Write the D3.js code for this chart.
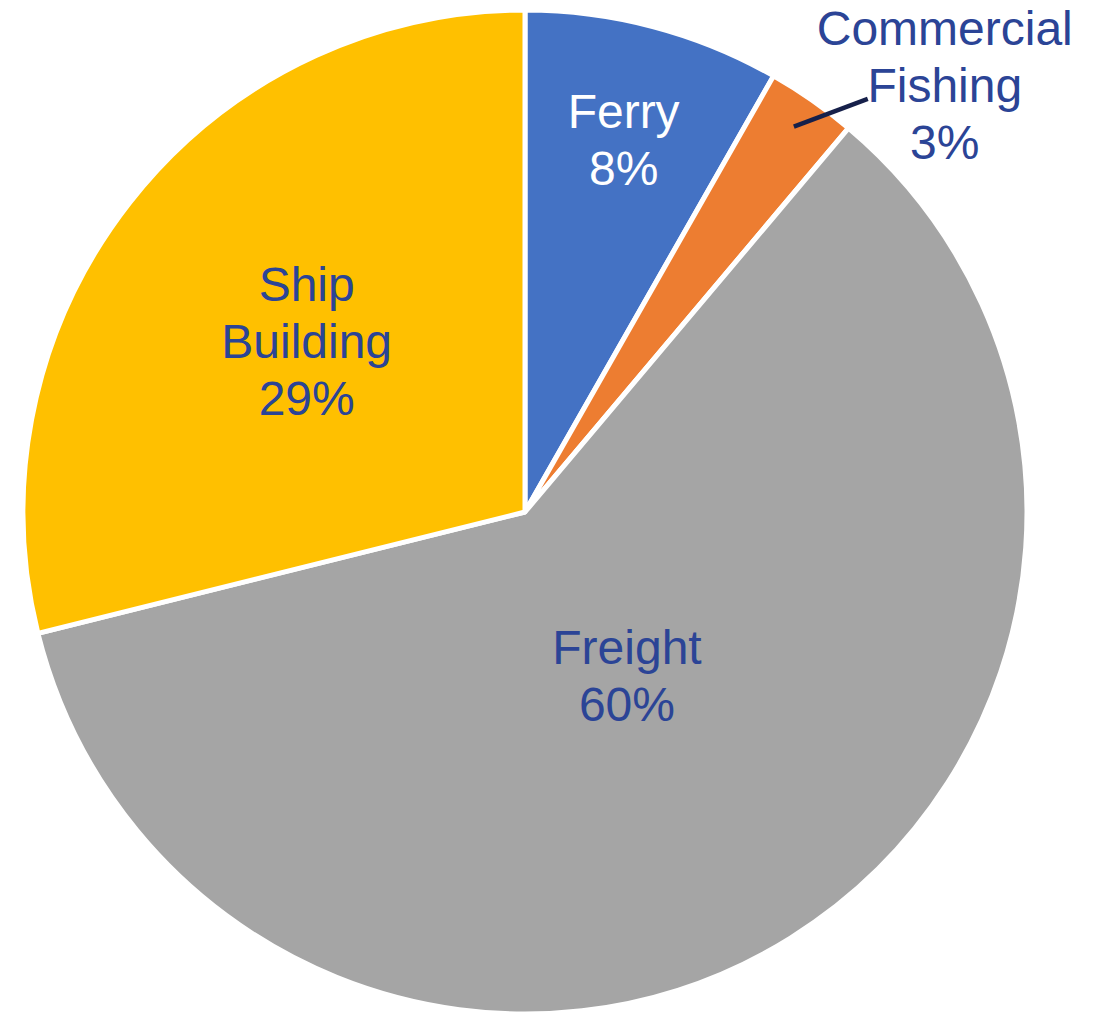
<!DOCTYPE html>
<html>
<head>
<meta charset="utf-8">
<script src="https://cdn.jsdelivr.net/npm/d3@7"></script>
<style>
  html, body { margin: 0; padding: 0; background: #ffffff; }
  svg { display: block; }
</style>
</head>
<body>
<svg id="chart" width="1104" height="1014"></svg>
<script>
// ---- data ----
const categories = ["Ferry", "Commercial Fishing", "Freight", "Ship Building"];
const labelLines = [["Ferry"], ["Commercial", "Fishing"], ["Freight"], ["Ship", "Building"]];
const values = [8.25, 2.9, 60.0, 28.9];
const percentLabels = ["8%", "3%", "60%", "29%"];

// ---- layout / style ----
const W = 1104, H = 1014;
const cx = 525, cy = 512, R = 502;
const colors = ["#4472C4", "#ED7D31", "#A5A5A5", "#FFC000"];
const textColors = ["#FFFFFF", "#2B4496", "#2B4496", "#2B4496"];
const labelRadiusFactor = [0.767, null, 0.384, 0.552];
const fontSize = 48, lineH = 57;

const svg = d3.select("#chart");
const g = svg.append("g").attr("transform", `translate(${cx},${cy})`);

const pie = d3.pie().sort(null).value(d => d)(values);
const arc = d3.arc().innerRadius(0).outerRadius(R);

g.selectAll("path.slice")
  .data(pie)
  .join("path")
  .attr("class", "slice")
  .attr("d", arc)
  .attr("fill", (d, i) => colors[i])
  .attr("stroke", "#ffffff")
  .attr("stroke-width", 5)
  .attr("stroke-linejoin", "round");

function drawLabel(x, y, lines, color) {
  const t = g.append("text")
    .attr("text-anchor", "middle")
    .attr("font-family", "Liberation Sans, Arial, sans-serif")
    .attr("font-size", fontSize)
    .attr("fill", color);
  const n = lines.length;
  lines.forEach((ln, j) => {
    t.append("tspan")
      .attr("x", x)
      .attr("y", y + (j - (n - 1) / 2) * lineH + fontSize * 0.35)
      .text(ln);
  });
}

pie.forEach((d, i) => {
  const lines = labelLines[i].concat([percentLabels[i]]);
  if (labelRadiusFactor[i] !== null) {
    const k = labelRadiusFactor[i] * R;
    const c = d3.arc().innerRadius(k).outerRadius(k).centroid(d);
    drawLabel(c[0], c[1], lines, textColors[i]);
  } else {
    // outside label with leader line
    const mid = (d.startAngle + d.endAngle) / 2;
    const r0 = 0.936 * R;
    const p0 = [Math.sin(mid) * r0, -Math.cos(mid) * r0];
    const la = 44.5 * Math.PI / 180, lr = 1.193 * R;
    const lc = [Math.sin(la) * lr, -Math.cos(la) * lr];
    const p1 = [lc[0] - 77, lc[1] + 14];
    g.append("line")
      .attr("x1", p0[0]).attr("y1", p0[1])
      .attr("x2", p1[0]).attr("y2", p1[1])
      .attr("stroke", "#16204A")
      .attr("stroke-width", 4.5);
    drawLabel(lc[0], lc[1], lines, textColors[i]);
  }
});
</script>
</body>
</html>
